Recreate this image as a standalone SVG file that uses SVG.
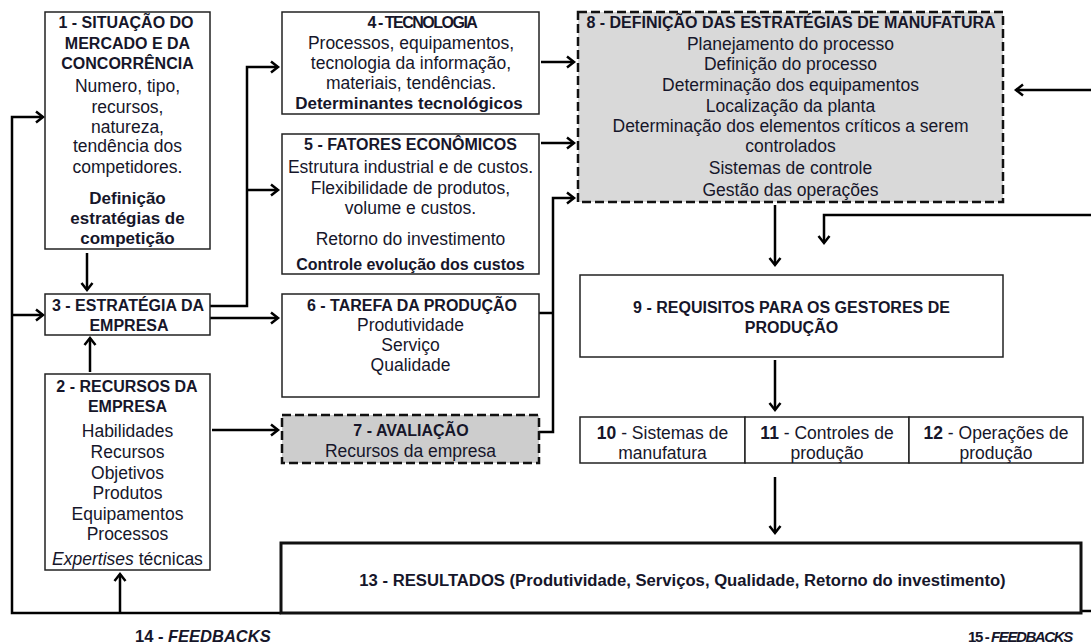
<svg xmlns="http://www.w3.org/2000/svg" width="1091" height="644" viewBox="0 0 1091 644">
<style>
.box{fill:#fff;stroke:#222;stroke-width:1.5}
.dash{fill:#d9d9d9;stroke:#111;stroke-width:2.5;stroke-dasharray:9 4}
.t{font-family:"Liberation Sans",Arial,sans-serif;font-size:17.5px;fill:#16162a;text-anchor:middle}
.b{font-weight:bold;font-size:16px}
.b17{font-weight:bold;font-size:17px}
.conn{fill:none;stroke:#000;stroke-width:2.5}
</style>
<defs>
<marker id="ah" markerWidth="12" markerHeight="14" refX="9" refY="7" orient="auto" markerUnits="userSpaceOnUse">
<path d="M2,1.5 L9,7 L2,12.5" fill="none" stroke="#000" stroke-width="2.5"/>
</marker>
</defs>
<rect width="1091" height="644" fill="#fff"/>

<g id="connectors">
<polyline class="conn" points="281,613 12,613 12,117 43,117" marker-end="url(#ah)"/>
<line class="conn" x1="12" y1="315" x2="43" y2="315" marker-end="url(#ah)"/>
<line class="conn" x1="120" y1="613" x2="120" y2="574" marker-end="url(#ah)"/>
<line class="conn" x1="87" y1="253" x2="87" y2="290" marker-end="url(#ah)"/>
<line class="conn" x1="90" y1="372" x2="90" y2="338" marker-end="url(#ah)"/>
<polyline class="conn" points="210,306 247,306 247,67 278,67" marker-end="url(#ah)"/>
<line class="conn" x1="247" y1="190" x2="278" y2="190" marker-end="url(#ah)"/>
<line class="conn" x1="210" y1="318" x2="278" y2="318" marker-end="url(#ah)"/>
<line class="conn" x1="212" y1="430" x2="278" y2="430" marker-end="url(#ah)"/>
<line class="conn" x1="541" y1="62" x2="574" y2="62" marker-end="url(#ah)"/>
<line class="conn" x1="541" y1="143" x2="574" y2="143" marker-end="url(#ah)"/>
<polyline class="conn" points="539,313 553,313"/>
<polyline class="conn" points="539,432 553,432 553,198 574,198" marker-end="url(#ah)"/>
<line class="conn" x1="1091" y1="90" x2="1016" y2="90" marker-end="url(#ah)"/>
<polyline class="conn" points="1091,215 824,215 824,243" marker-end="url(#ah)"/>
<line class="conn" x1="775" y1="205" x2="775" y2="265" marker-end="url(#ah)"/>
<line class="conn" x1="775" y1="360" x2="775" y2="410" marker-end="url(#ah)"/>
<line class="conn" x1="775" y1="477" x2="775" y2="533" marker-end="url(#ah)"/>
<line class="conn" x1="1081" y1="611" x2="1091" y2="611"/>
</g>

<g id="n1">
<rect class="box" x="45" y="12" width="165" height="237"/>
<text class="t b" x="126" y="28">1 - SITUAÇÃO DO</text>
<text class="t b" x="127.5" y="49">MERCADO E DA</text>
<text class="t b" x="127.5" y="69">CONCORRÊNCIA</text>
<text class="t" x="127.5" y="92">Numero, tipo,</text>
<text class="t" x="127.5" y="113">recursos,</text>
<text class="t" x="127.5" y="133">natureza,</text>
<text class="t" x="127.5" y="152">tendência dos</text>
<text class="t" x="127.5" y="173">competidores.</text>
<text class="t b17" x="127.5" y="204">Definição</text>
<text class="t b17" x="127.5" y="224">estratégias de</text>
<text class="t b17" x="127.5" y="244">competição</text>
</g>

<g id="n3">
<rect class="box" x="45" y="294" width="165" height="41"/>
<text class="t b" x="128" y="311">3 - ESTRATÉGIA DA</text>
<text class="t b" x="129" y="331">EMPRESA</text>
</g>

<g id="n2">
<rect class="box" x="45" y="374" width="165" height="196"/>
<text class="t b" x="127" y="392">2 - RECURSOS DA</text>
<text class="t b" x="127.5" y="412">EMPRESA</text>
<text class="t" x="127.5" y="437">Habilidades</text>
<text class="t" x="127.5" y="458">Recursos</text>
<text class="t" x="127.5" y="479">Objetivos</text>
<text class="t" x="127.5" y="499">Produtos</text>
<text class="t" x="127.5" y="520">Equipamentos</text>
<text class="t" x="127.5" y="540">Processos</text>
<text class="t" x="127.5" y="565"><tspan font-style="italic">Expertises</tspan> técnicas</text>
</g>

<g id="n4">
<rect class="box" x="282" y="12" width="257" height="102"/>
<text class="t b" x="422" y="28" style="letter-spacing:-1.5px">4 - TECNOLOGIA</text>
<text class="t" x="411" y="49">Processos, equipamentos,</text>
<text class="t" x="411" y="69">tecnologia da informação,</text>
<text class="t" x="411" y="89">materiais, tendências.</text>
<text class="t b17" x="409" y="109">Determinantes tecnológicos</text>
</g>

<g id="n5">
<rect class="box" x="282" y="134" width="257" height="140"/>
<text class="t b" x="410.5" y="150">5 - FATORES ECONÔMICOS</text>
<text class="t" x="410.5" y="173">Estrutura industrial e de custos.</text>
<text class="t" x="410.5" y="194">Flexibilidade de produtos,</text>
<text class="t" x="410.5" y="214">volume e custos.</text>
<text class="t" x="410.5" y="245">Retorno do investimento</text>
<text class="t b" x="410.5" y="270">Controle evolução dos custos</text>
</g>

<g id="n6">
<rect class="box" x="282" y="294" width="257" height="103"/>
<text class="t b" x="412" y="311">6 - TAREFA DA PRODUÇÃO</text>
<text class="t" x="410.5" y="331">Produtividade</text>
<text class="t" x="410.5" y="351">Serviço</text>
<text class="t" x="410.5" y="371">Qualidade</text>
</g>

<g id="n7">
<rect class="dash" x="282" y="415" width="257" height="48" style="fill:#cdcdcd"/>
<text class="t b" x="411" y="436">7 - AVALIAÇÃO</text>
<text class="t" x="410.5" y="457">Recursos da empresa</text>
</g>

<g id="n8">
<rect class="dash" x="578" y="12" width="425" height="190"/>
<text class="t b" x="791" y="28">8 - DEFINIÇÃO DAS ESTRATÉGIAS DE MANUFATURA</text>
<text class="t" x="790.5" y="50">Planejamento do processo</text>
<text class="t" x="790.5" y="70">Definição do processo</text>
<text class="t" x="790.5" y="91">Determinação dos equipamentos</text>
<text class="t" x="790.5" y="112">Localização da planta</text>
<text class="t" x="790.5" y="132">Determinação dos elementos críticos a serem</text>
<text class="t" x="790.5" y="152">controlados</text>
<text class="t" x="790.5" y="174">Sistemas de controle</text>
<text class="t" x="790.5" y="196">Gestão das operações</text>
</g>

<g id="n9">
<rect class="box" x="580" y="275" width="423" height="82"/>
<text class="t b" x="791.5" y="313">9 - REQUISITOS PARA OS GESTORES DE</text>
<text class="t b" x="791.5" y="333">PRODUÇÃO</text>
</g>

<g id="n10">
<rect class="box" x="580" y="417" width="165" height="46"/>
<text class="t" x="662.5" y="439"><tspan font-weight="bold">10</tspan> - Sistemas de</text>
<text class="t" x="662.5" y="459">manufatura</text>
</g>
<g id="n11">
<rect class="box" x="745" y="417" width="164" height="46"/>
<text class="t" x="827" y="439"><tspan font-weight="bold">11</tspan> - Controles de</text>
<text class="t" x="827" y="459">produção</text>
</g>
<g id="n12">
<rect class="box" x="909" y="417" width="174" height="46"/>
<text class="t" x="996" y="439"><tspan font-weight="bold">12</tspan> - Operações de</text>
<text class="t" x="996" y="459">produção</text>
</g>

<g id="n13">
<rect class="box" x="281" y="543" width="800" height="70" style="stroke-width:3;stroke:#111"/>
<text class="t b" transform="translate(682.5,586) scale(0.98,1)" x="0" y="0" style="font-size:17px">13 - RESULTADOS (Produtividade, Serviços, Qualidade, Retorno do investimento)</text>
</g>

<g id="labels">
<text class="t b" x="135" y="642" style="text-anchor:start;font-size:16.5px">14 - <tspan font-style="italic">FEEDBACKS</tspan></text>
<text class="t b" x="968" y="642" style="text-anchor:start;font-size:15px;letter-spacing:-1.4px">15 - <tspan font-style="italic">FEEDBACKS</tspan></text>
</g>
</svg>
